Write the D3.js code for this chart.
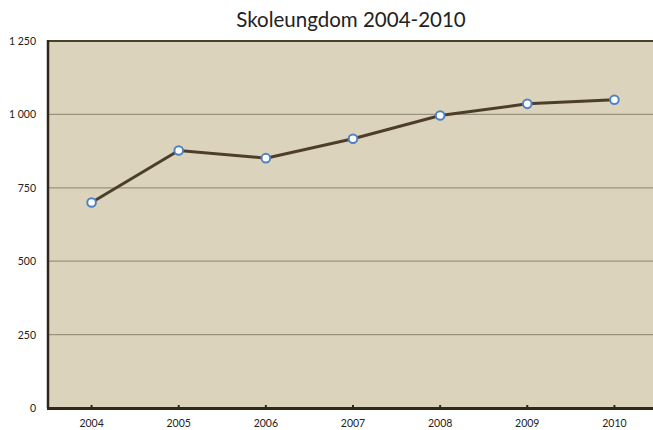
<!DOCTYPE html>
<html>
<head>
<meta charset="utf-8">
<script src="https://cdn.jsdelivr.net/npm/d3@7"></script>
<style>
  body { margin: 0; background: #fff; }
  text { font-family: "Lato", "Noto Sans", sans-serif; }
</style>
</head>
<body>
<div id="chart"></div>
<script>
const years = ["2004", "2005", "2006", "2007", "2008", "2009", "2010"];
const pupils = [700, 877, 851, 917, 996, 1036, 1050];
const yTicks = [0, 250, 500, 750, 1000, 1250];

const width = 653;
const height = 430;
const margin = { top: 41, right: -5, bottom: 22, left: 48 };

const svg = d3.select("#chart")
  .append("svg")
  .attr("width", width)
  .attr("height", height);

const x = d3.scaleBand()
  .domain(years)
  .range([margin.left, width - margin.right]);

const y = d3.scaleLinear()
  .domain([0, 1250])
  .range([height - margin.bottom, margin.top]);

const fmt = d => d3.format(",")(d).replace(",", " ");

// plot background
svg.append("rect")
  .attr("x", margin.left)
  .attr("y", margin.top)
  .attr("width", width - margin.left)
  .attr("height", y(0) - margin.top)
  .attr("fill", "#dcd3bc");

// gridlines
svg.append("g")
  .selectAll("line")
  .data(yTicks.filter(d => d > 0 && d < 1250))
  .join("line")
  .attr("x1", margin.left)
  .attr("x2", width)
  .attr("y1", d => y(d))
  .attr("y2", d => y(d))
  .attr("stroke", "#9c9280")
  .attr("stroke-width", 1.2);

// top border
svg.append("line")
  .attr("x1", margin.left)
  .attr("x2", width)
  .attr("y1", y(1250))
  .attr("y2", y(1250))
  .attr("stroke", "#4a4030")
  .attr("stroke-width", 2);

// left border
svg.append("line")
  .attr("x1", margin.left)
  .attr("x2", margin.left)
  .attr("y1", y(1250) - 1)
  .attr("y2", y(0))
  .attr("stroke", "#2e2818")
  .attr("stroke-width", 2.5);

// bottom axis
svg.append("line")
  .attr("x1", margin.left - 1)
  .attr("x2", width)
  .attr("y1", y(0) + 0.5)
  .attr("y2", y(0) + 0.5)
  .attr("stroke", "#2e2818")
  .attr("stroke-width", 3);

// x ticks
svg.append("g")
  .selectAll("line")
  .data(years)
  .join("line")
  .attr("x1", d => x(d) + x.bandwidth() / 2)
  .attr("x2", d => x(d) + x.bandwidth() / 2)
  .attr("y1", y(0) - 3)
  .attr("y2", y(0))
  .attr("stroke", "#2e2818")
  .attr("stroke-width", 2);

// y labels
svg.append("g")
  .selectAll("text")
  .data(yTicks)
  .join("text")
  .attr("x", 36)
  .attr("y", d => y(d) + 4)
  .attr("text-anchor", "end")
  .attr("font-size", 10.5)
  .attr("fill", "#222")
  .text(fmt);

// x labels
svg.append("g")
  .selectAll("text")
  .data(years)
  .join("text")
  .attr("x", d => x(d) + x.bandwidth() / 2)
  .attr("y", 427)
  .attr("text-anchor", "middle")
  .attr("font-size", 10.5)
  .attr("fill", "#222")
  .text(d => d);

// line
const line = d3.line()
  .x((d, i) => x(years[i]) + x.bandwidth() / 2)
  .y(d => y(d));

svg.append("path")
  .datum(pupils)
  .attr("d", line)
  .attr("fill", "none")
  .attr("stroke", "#4d3e2c")
  .attr("stroke-width", 3);

svg.append("g")
  .selectAll("circle")
  .data(pupils)
  .join("circle")
  .attr("cx", (d, i) => x(years[i]) + x.bandwidth() / 2)
  .attr("cy", d => y(d))
  .attr("r", 4.3)
  .attr("fill", "#fff")
  .attr("stroke", "#4f82c0")
  .attr("stroke-width", 2);

// title
svg.append("text")
  .attr("x", 351)
  .attr("y", 27)
  .attr("text-anchor", "middle")
  .attr("font-size", 20.5)
  .attr("fill", "#222")
  .text("Skoleungdom 2004-2010");
</script>
</body>
</html>
